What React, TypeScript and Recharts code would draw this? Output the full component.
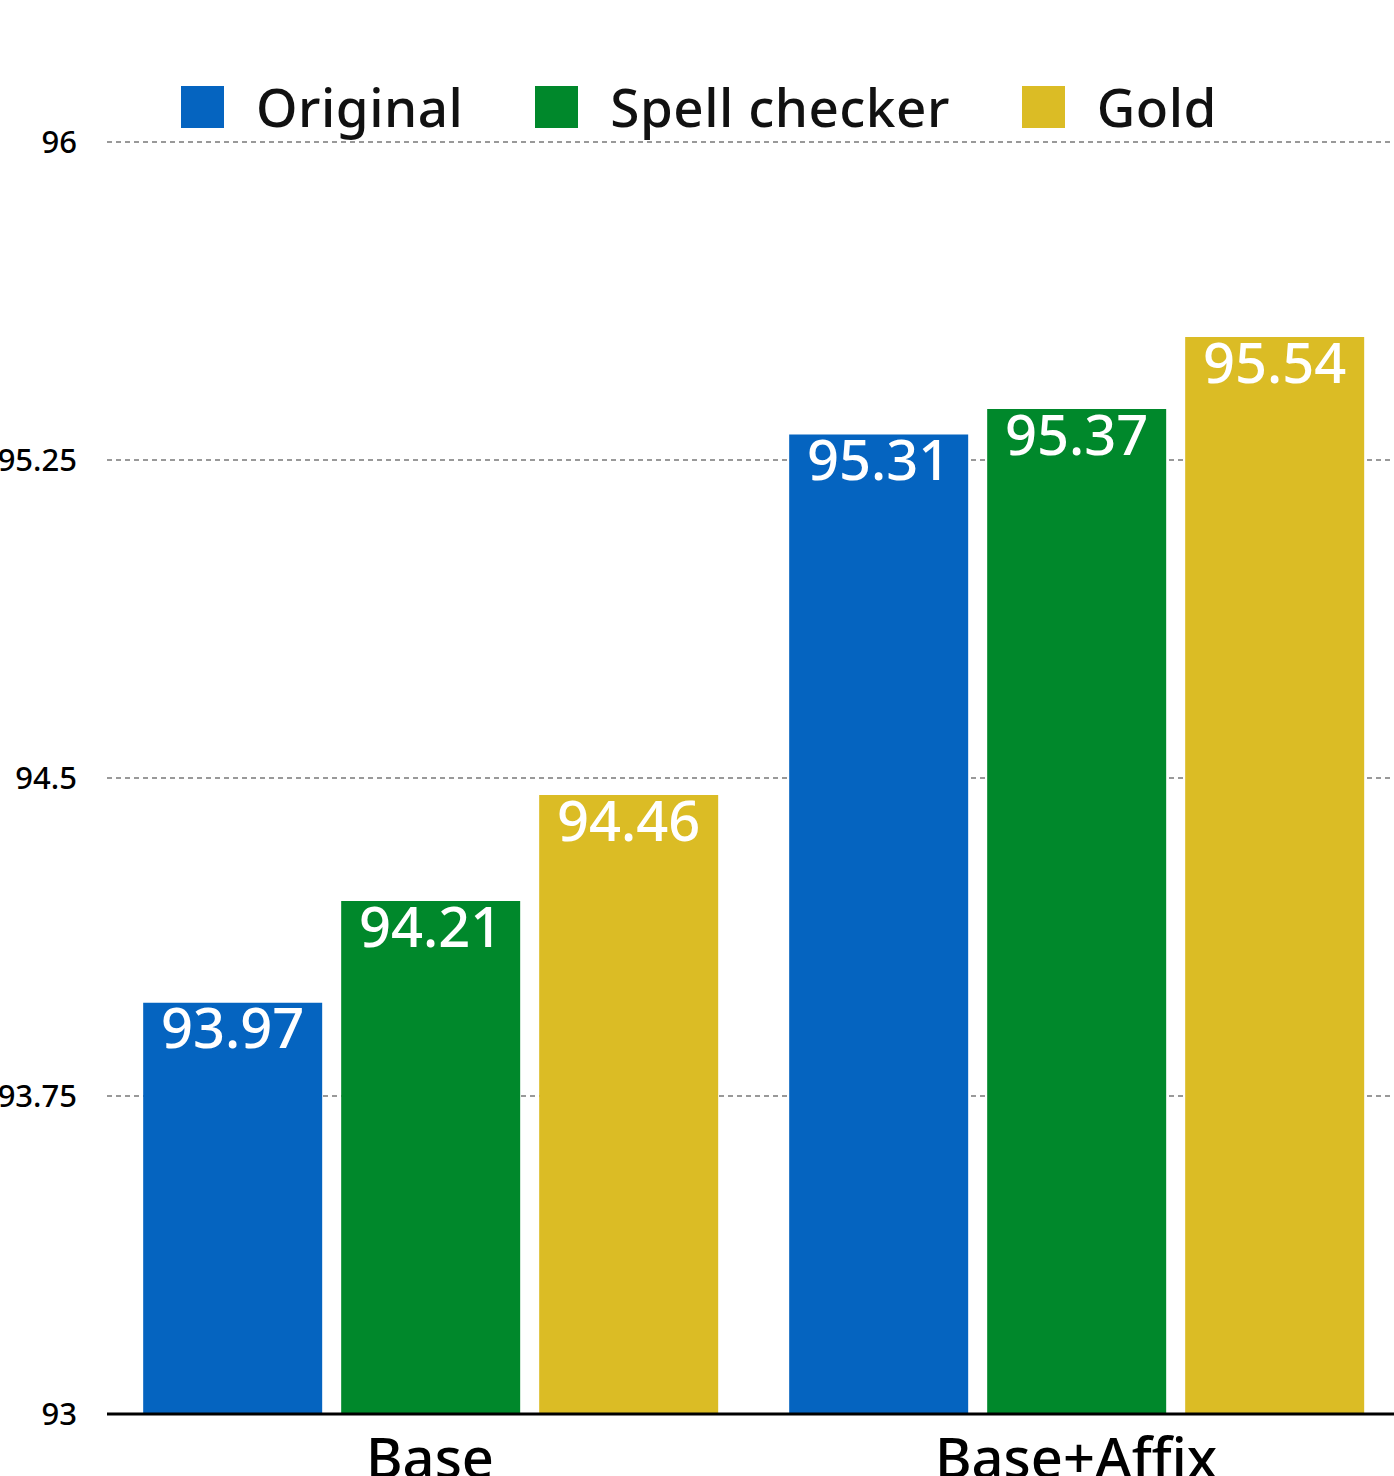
import { BarChart, Bar, XAxis, YAxis, CartesianGrid, Legend, LabelList } from "recharts";

const categories = ["Base", "Base+Affix"];
const original = [93.97, 95.31];
const spellChecker = [94.21, 95.37];
const gold = [94.46, 95.54];
const yTicks = [93, 93.75, 94.5, 95.25, 96];

const series = [
  { key: "original", name: "Original", color: "#0564C0" },
  { key: "spell", name: "Spell checker", color: "#00882B" },
  { key: "gold", name: "Gold", color: "#DBBC25" },
];

const data = categories.map((c, i) => ({
  name: c,
  original: original[i],
  spell: spellChecker[i],
  gold: gold[i],
}));

const FONT = "'Noto Sans', sans-serif";

const renderLegend = () => (
  <div style={{ display: "flex", alignItems: "center", fontFamily: FONT, height: 42 }}>
    {series.map((s) => (
      <div key={s.key} style={{ display: "flex", alignItems: "center", marginRight: 72 }}>
        <div style={{ width: 43, height: 42, background: s.color, marginRight: 32 }} />
        <span style={{ fontSize: 53, fontWeight: 500, color: "#111", lineHeight: "42px", letterSpacing: 0.5 }}>
          {s.name}
        </span>
      </div>
    ))}
  </div>
);

export default function App() {
  return (
    <div style={{ position: "absolute", left: 0, top: 0, width: 1394, height: 1476, overflow: "hidden", background: "#fff" }}>
      <BarChart
        width={1399}
        height={1476}
        data={data}
        margin={{ top: 100, right: 0, left: 0, bottom: 0 }}
        barCategoryGap="5.6%"
        barGap={19}
      >
        <CartesianGrid vertical={false} stroke="#999" strokeWidth={2} strokeDasharray="5 4" />
        <XAxis
          dataKey="name"
          height={62}
          tickLine={false}
          tickSize={0}
          tickMargin={24}
          axisLine={{ stroke: "#000", strokeWidth: 3 }}
          tick={{ fill: "#000", fontSize: 56, fontFamily: FONT, fontWeight: 500 }}
        />
        <YAxis
          width={107}
          domain={[93, 96]}
          ticks={yTicks}
          interval={0}
          axisLine={false}
          tickLine={false}
          tickSize={0}
          tickMargin={30}
          tick={{ fill: "#000", fontSize: 31, fontFamily: FONT, fontWeight: 500 }}
        />
        <Legend content={renderLegend} verticalAlign="top" wrapperStyle={{ top: 86, left: 181, width: "auto", height: 42 }} />
        {series.map((s) => (
          <Bar key={s.key} dataKey={s.key} name={s.name} fill={s.color} isAnimationActive={false}>
            <LabelList
              dataKey={s.key}
              position="insideTop"
              offset={6}
              fill="#fff"
              fontSize={56}
              fontFamily={FONT}
              fontWeight={500}
            />
          </Bar>
        ))}
      </BarChart>
    </div>
  );
}
